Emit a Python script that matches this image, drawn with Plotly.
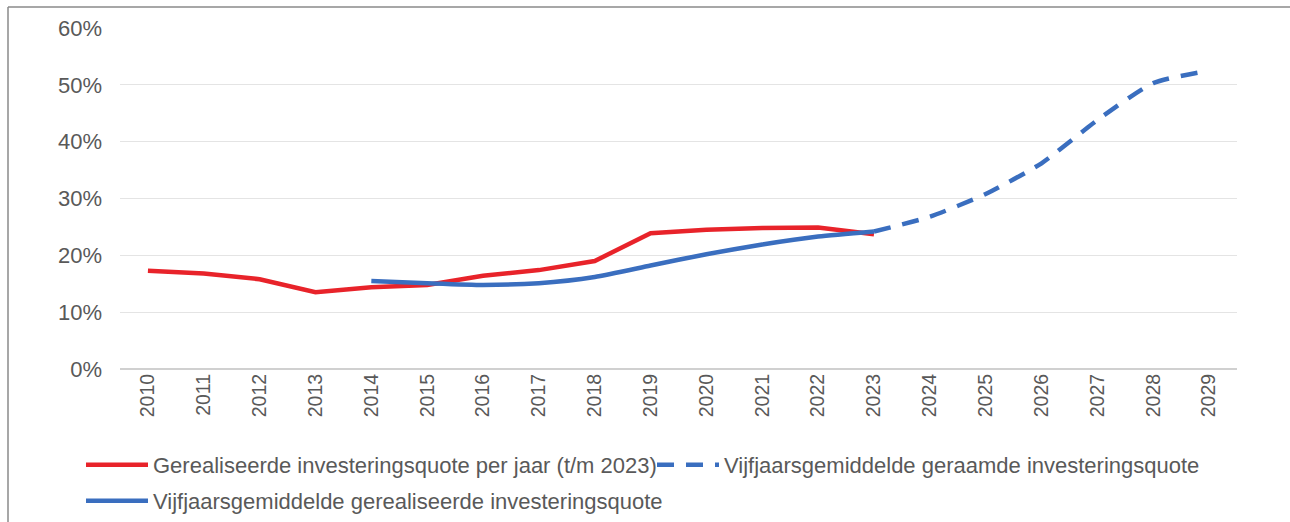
import plotly.graph_objects as go

years = [str(y) for y in range(2010, 2030)]
red_years = [str(y) for y in range(2010, 2024)]
red_vals = [0.173, 0.168, 0.158, 0.135, 0.144, 0.148, 0.164, 0.174, 0.190, 0.239, 0.245, 0.248, 0.249, 0.237]
blue_years = [str(y) for y in range(2014, 2024)]
blue_vals = [0.155, 0.151, 0.148, 0.151, 0.162, 0.182, 0.202, 0.219, 0.233, 0.242]
dash_years = [str(y) for y in range(2023, 2030)]
dash_vals = [0.242, 0.268, 0.308, 0.362, 0.438, 0.503, 0.525]
yticks = [0, 0.1, 0.2, 0.3, 0.4, 0.5, 0.6]
ytick_text = ["0%", "10%", "20%", "30%", "40%", "50%", "60%"]

RED = "#e8232a"
BLUE = "#3a6ebf"
FONT = "Liberation Sans, Arial, sans-serif"
GRAY = "#595959"

fig = go.Figure()
fig.add_trace(go.Scatter(x=red_years, y=red_vals, mode="lines",
                         name="Gerealiseerde investeringsquote per jaar (t/m 2023)",
                         line=dict(color=RED, width=4.5), legend="legend", showlegend=True))
fig.add_trace(go.Scatter(x=blue_years, y=blue_vals, mode="lines",
                         name="Vijfjaarsgemiddelde gerealiseerde investeringsquote",
                         line=dict(color=BLUE, width=4.5, shape="spline", smoothing=0.6),
                         legend="legend3", showlegend=True))
fig.add_trace(go.Scatter(x=dash_years, y=dash_vals, mode="lines",
                         name="Vijfjaarsgemiddelde geraamde investeringsquote",
                         line=dict(color=BLUE, width=4.5, dash="17px,12px", shape="spline", smoothing=0.6),
                         legend="legend2", showlegend=True))

L, R, T, B = 120, 53, 28, 153
W, H = 1290, 522
pw = W - L - R
ph = H - T - B

def px2x(px):
    return (px - L) / pw

def px2y(py):
    return (H - B - py) / ph

leg_common = dict(orientation="h", xanchor="left", yanchor="middle",
                  font=dict(family=FONT, size=22, color=GRAY),
                  bgcolor="rgba(0,0,0,0)", itemwidth=62)

fig.update_layout(
    width=W, height=H, autosize=False,
    showlegend=True,
    margin=dict(l=L, r=R, t=T, b=B, autoexpand=False),
    paper_bgcolor="white", plot_bgcolor="white",
    font=dict(family=FONT, color=GRAY),
    legend=dict(x=px2x(81), y=px2y(465), **leg_common),
    legend2=dict(x=px2x(652), y=px2y(465), **leg_common),
    legend3=dict(x=px2x(81), y=px2y(501), **leg_common),
    xaxis=dict(type="category", categoryorder="array", categoryarray=years,
               range=[-0.5, 19.5], tickangle=-90, showgrid=False,
               tickfont=dict(family=FONT, size=19.5, color=GRAY),
               showline=False, zeroline=False, ticks="", automargin=False),
    yaxis=dict(range=[0, 0.6], tickvals=yticks, ticktext=ytick_text,
               showgrid=True, gridcolor="#e4e4e4", gridwidth=1.3,
               zeroline=True, zerolinecolor="#d0d0d0", zerolinewidth=1.5,
               tickfont=dict(family=FONT, size=22, color=GRAY),
               ticks="", ticklabelstandoff=17, showline=False, automargin=False),
    shapes=[
        dict(type="line", xref="paper", yref="paper",
             x0=px2x(8), x1=px2x(8), y0=px2y(7), y1=px2y(530),
             line=dict(color="#8a8a8a", width=1.5)),
        dict(type="line", xref="paper", yref="paper",
             x0=px2x(8), x1=px2x(1300), y0=px2y(7), y1=px2y(7),
             line=dict(color="#8a8a8a", width=1.5)),
    ],
)

fig.write_html(
    "out.html",
    config={"responsive": False, "displayModeBar": False},
    post_script="document.body.style.margin='0';document.body.style.overflow='hidden';"
                "document.documentElement.style.overflow='hidden';",
)
